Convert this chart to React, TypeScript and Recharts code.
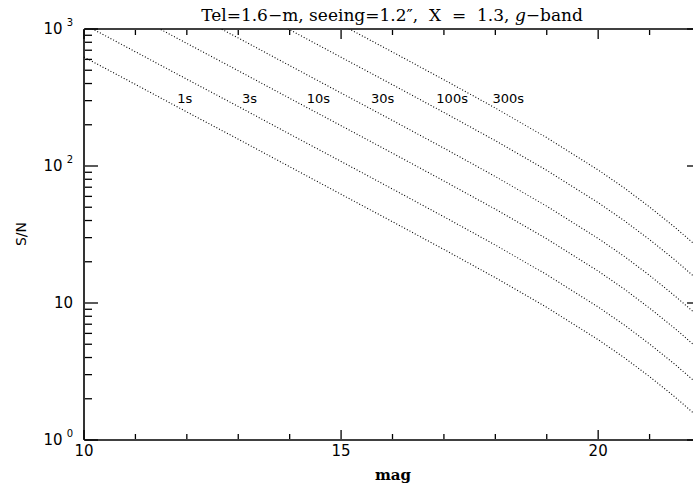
import { LineChart, Line, XAxis, YAxis, ReferenceDot } from 'recharts';

// magnitudes sampled along each curve
const MAGS = [10, 11, 12, 13, 14, 15, 16, 17, 18, 19, 20, 20.5, 21, 21.5, 22];

// S/N, one array per exposure time
const SN_1S = [624, 394, 248, 157, 98.8, 62.2, 39.2, 24.6, 15.3, 9.29, 5.4, 4.01, 2.9, 2.05, 1.41];
const SN_3S = [1081, 682, 430, 272, 171, 108, 67.9, 42.6, 26.5, 16.1, 9.35, 6.95, 5.02, 3.55, 2.44];
const SN_10S = [1973, 1246, 785, 496, 312, 197, 124, 77.8, 48.4, 29.4, 17.1, 12.7, 9.17, 6.48, 4.46];
const SN_30S = [3418, 2158, 1358, 860, 541, 341, 215, 135, 83.8, 50.9, 29.6, 22.0, 15.9, 11.2, 7.72];
const SN_100S = [6240, 3940, 2480, 1570, 988, 622, 392, 246, 153, 92.9, 54.0, 40.1, 29.0, 20.5, 14.1];
const SN_300S = [10808, 6824, 4295, 2719, 1711, 1077, 679, 426, 265, 161, 93.5, 69.5, 50.2, 35.5, 24.4];

const SERIES = ['s1', 's3', 's10', 's30', 's100', 's300'];
const EXPOSURE_LABELS = ['1s', '3s', '10s', '30s', '100s', '300s'];
const LABEL_MAGS = [11.96, 13.22, 14.56, 15.81, 17.16, 18.25];
const LABEL_SN = 313;

const X_TICKS = [10, 11, 12, 13, 14, 15, 16, 17, 18, 19, 20, 21, 22];
const X_MAJOR = [10, 15, 20];
const Y_TICKS = [
  1, 2, 3, 4, 5, 6, 7, 8, 9,
  10, 20, 30, 40, 50, 60, 70, 80, 90,
  100, 200, 300, 400, 500, 600, 700, 800, 900, 1000,
];
const Y_EXPONENTS: Record<number, string> = { 1: '0', 100: '2', 1000: '3' };

const data = MAGS.map((m, i) => ({
  mag: m,
  s1: SN_1S[i],
  s3: SN_3S[i],
  s10: SN_10S[i],
  s30: SN_30S[i],
  s100: SN_100S[i],
  s300: SN_300S[i],
}));

const SANS = '"DejaVu Sans", sans-serif';
const SERIF = '"DejaVu Serif", serif';
const isDecade = (v: number) => [1, 10, 100, 1000].includes(v);

// axes have 1px of thickness, so tick coords sit 1px off the frame
const BottomTick = ({ x, y, payload }: any) => {
  const major = X_MAJOR.includes(payload.value);
  const y0 = y - 1;
  return (
    <g>
      <line x1={x} y1={y0} x2={x} y2={y0 - (major ? 9 : 5)} stroke="#000" strokeWidth={1.3} />
      {major && (
        <text x={x} y={y0 + 17} textAnchor="middle" fontSize={15} fontFamily={SANS} fill="#000">
          {payload.value}
        </text>
      )}
    </g>
  );
};

const TopTick = ({ x, y, payload }: any) => {
  const major = X_MAJOR.includes(payload.value);
  const y0 = y + 1;
  return <line x1={x} y1={y0} x2={x} y2={y0 + (major ? 9 : 5)} stroke="#000" strokeWidth={1.3} />;
};

const LeftTick = ({ x, y, payload }: any) => {
  const major = isDecade(payload.value);
  const exp = Y_EXPONENTS[payload.value];
  const x0 = x + 1;
  return (
    <g>
      <line x1={x0} y1={y} x2={x0 + (major ? 13 : 7)} y2={y} stroke="#000" strokeWidth={1.3} />
      {major && (
        <text x={x0 - 12} y={y + 5} textAnchor="end" fontSize={15} fontFamily={SANS} fill="#000">
          10
          {exp && (
            <tspan dx={4} dy={-8} fontSize={10}>
              {exp}
            </tspan>
          )}
        </text>
      )}
    </g>
  );
};

const RightTick = ({ x, y, payload }: any) => {
  const major = isDecade(payload.value);
  const x0 = x - 1;
  return <line x1={x0} y1={y} x2={x0 - (major ? 13 : 7)} y2={y} stroke="#000" strokeWidth={1.3} />;
};

const axisLine = { stroke: '#000', strokeWidth: 1.6 };

export default function App() {
  return (
    <div style={{ position: 'absolute', left: 0, top: 0, width: 693, height: 485, overflow: 'hidden', background: '#fff' }}>
      <LineChart width={720} height={485} data={data} margin={{ top: 28, right: 18, bottom: 44, left: 83 }}>
        <XAxis
          dataKey="mag"
          type="number"
          domain={[10, 22]}
          ticks={X_TICKS}
          interval={0}
          height={1}
          tickSize={0}
          tickMargin={0}
          axisLine={axisLine}
          tick={<BottomTick />}
        />
        <XAxis
          xAxisId="top"
          orientation="top"
          dataKey="mag"
          type="number"
          domain={[10, 22]}
          ticks={X_TICKS}
          interval={0}
          height={1}
          tickSize={0}
          tickMargin={0}
          axisLine={axisLine}
          tick={<TopTick />}
        />
        <YAxis
          scale="log"
          domain={[1, 1000]}
          allowDataOverflow
          ticks={Y_TICKS}
          interval={0}
          width={1}
          tickSize={0}
          tickMargin={0}
          axisLine={axisLine}
          tick={<LeftTick />}
        />
        <YAxis
          yAxisId="right"
          orientation="right"
          scale="log"
          domain={[1, 1000]}
          allowDataOverflow
          ticks={Y_TICKS}
          interval={0}
          width={1}
          tickSize={0}
          tickMargin={0}
          axisLine={axisLine}
          tick={<RightTick />}
        />
        {SERIES.map((key) => (
          <Line
            key={key}
            type="linear"
            dataKey={key}
            stroke="#000"
            strokeWidth={1.1}
            strokeDasharray="1 2"
            dot={false}
            activeDot={false}
            isAnimationActive={false}
          />
        ))}
        {EXPOSURE_LABELS.map((label, i) => (
          <ReferenceDot
            key={label}
            x={LABEL_MAGS[i]}
            y={LABEL_SN}
            r={0}
            shape={(p: any) => (
              <text x={p.cx} y={p.cy + 5} textAnchor="middle" fontSize={13} fontFamily={SANS} fill="#000">
                {label}
              </text>
            )}
          />
        ))}
      </LineChart>
      <svg width={693} height={485} style={{ position: 'absolute', left: 0, top: 0, pointerEvents: 'none' }}>
        <text x={392} y={21} textAnchor="middle" fontSize={17} fontFamily={SERIF} fill="#000" xmlSpace="preserve">
          Tel=1.6−m, seeing=1.2″,  X  =  1.3, <tspan fontStyle="italic">g</tspan>−band
        </text>
        <text x={393} y={480} textAnchor="middle" fontSize={15} fontFamily={SERIF} fontWeight="bold" fill="#000">
          mag
        </text>
        <text
          x={0}
          y={0}
          transform="translate(26 234) rotate(-90)"
          textAnchor="middle"
          fontSize={14}
          fontFamily={SANS}
          fill="#000"
        >
          S/N
        </text>
      </svg>
    </div>
  );
}
